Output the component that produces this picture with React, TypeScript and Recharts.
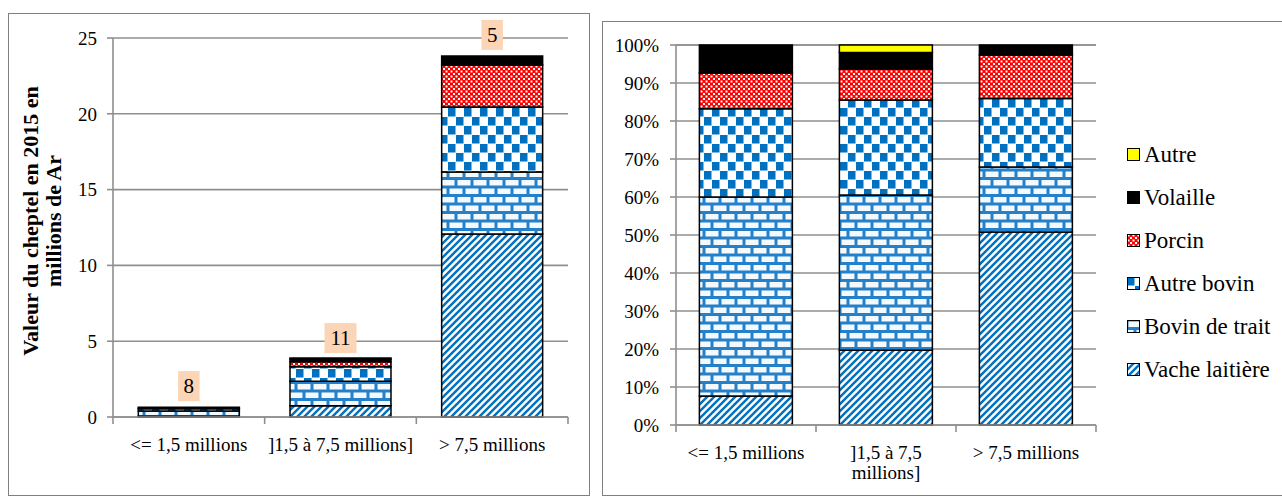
import React from 'react';
import { Bar, BarChart, CartesianGrid, LabelList, XAxis, YAxis } from 'recharts';

const categories = ['<= 1,5 millions', ']1,5 à 7,5 millions]', '> 7,5 millions'];
const farmCounts = [8, 11, 5];

// valeur du cheptel en 2015, millions d'Ar
const vacheLaitiere = [0.05, 0.75, 12.07];
const bovinTrait = [0.34, 1.6, 4.09];
const autreBovin = [0.15, 0.97, 4.29];
const porcin = [0.06, 0.32, 2.77];
const volaille = [0.05, 0.18, 0.6];
const autre = [0, 0.08, 0];

// parts en %
const pctVache = [7.6, 19.7, 50.8];
const pctTrait = [52.4, 40.8, 17.1];
const pctAutreBovin = [23.2, 25.0, 18.0];
const pctPorcin = [9.4, 8.2, 11.5];
const pctVolaille = [7.4, 4.3, 2.6];
const pctAutre = [0, 2.0, 0];

const valueTicks = [0, 5, 10, 15, 20, 25];
const pctTicks = [0, 10, 20, 30, 40, 50, 60, 70, 80, 90, 100];

const series = [
  { key: 'vache', name: 'Vache laitière', fill: 'url(#pat-vache)' },
  { key: 'trait', name: 'Bovin de trait', fill: 'url(#pat-trait)' },
  { key: 'autreBovin', name: 'Autre bovin', fill: 'url(#pat-autrebovin)' },
  { key: 'porcin', name: 'Porcin', fill: 'url(#pat-porcin)' },
  { key: 'volaille', name: 'Volaille', fill: '#000000' },
  { key: 'autre', name: 'Autre', fill: '#FFFF00' },
];

const valueData = categories.map((cat, i) => ({
  cat,
  n: farmCounts[i],
  vache: vacheLaitiere[i],
  trait: bovinTrait[i],
  autreBovin: autreBovin[i],
  porcin: porcin[i],
  volaille: volaille[i],
  autre: autre[i],
}));

const pctData = categories.map((cat, i) => ({
  cat,
  vache: pctVache[i],
  trait: pctTrait[i],
  autreBovin: pctAutreBovin[i],
  porcin: pctPorcin[i],
  volaille: pctVolaille[i],
  autre: pctAutre[i],
}));

const FONT = '"Liberation Serif", "Times New Roman", serif';
const GRID = '#8f8f8f';
const BLUE = '#0070C0';

let measureCtx: CanvasRenderingContext2D | null = null;
function textWidth(s: string, size: number) {
  if (!measureCtx) measureCtx = document.createElement('canvas').getContext('2d');
  if (!measureCtx) return s.length * size * 0.45;
  measureCtx.font = `${size}px "Liberation Serif"`;
  return measureCtx.measureText(s).width;
}

function wrapWords(s: string, maxWidth: number, size: number) {
  const words = s.split(' ');
  const lines: string[] = [];
  let cur = '';
  for (const w of words) {
    const next = cur ? `${cur} ${w}` : w;
    if (cur && textWidth(next, size) > maxWidth) {
      lines.push(cur);
      cur = w;
    } else {
      cur = next;
    }
  }
  if (cur) lines.push(cur);
  return lines;
}

function Patterns() {
  return (
    <svg width={0} height={0} style={{ position: 'absolute' }}>
      <defs>
        <pattern id="pat-vache" patternUnits="userSpaceOnUse" width="7" height="7">
          <rect width="7" height="7" fill="#fff" />
          <path d="M-2,2 L2,-2 M0,7 L7,0 M5,9 L9,5" stroke={BLUE} strokeWidth="2.4" />
        </pattern>
        <pattern id="pat-trait" patternUnits="userSpaceOnUse" width="16" height="17">
          <rect width="16" height="17" fill="#2480c8" />
          <rect x="1.5" y="1.5" width="13" height="5.5" fill="#f4f9fd" />
          <rect x="-6.5" y="10" width="13" height="5.5" fill="#f4f9fd" />
          <rect x="9.5" y="10" width="13" height="5.5" fill="#f4f9fd" />
        </pattern>
        <pattern id="pat-autrebovin" patternUnits="userSpaceOnUse" width="16" height="18">
          <rect width="16" height="18" fill="#fff" />
          <rect x="0" y="0" width="7.5" height="8.5" fill={BLUE} />
          <rect x="8" y="9" width="7.5" height="8.5" fill={BLUE} />
        </pattern>
        <pattern id="pat-porcin" patternUnits="userSpaceOnUse" width="5" height="5">
          <rect width="5" height="5" fill="#ff0000" />
          <rect x="0.5" y="0.5" width="2" height="2" fill="#fff" />
          <rect x="3" y="3" width="2" height="2" fill="#fff" />
        </pattern>
      </defs>
    </svg>
  );
}

function makeCatTick(wrapWidth: number) {
  return (props: any) => {
    const { x, y, payload, index } = props;
    const bw = props.width ? props.width / categories.length : 150;
    const lines = wrapWords(String(payload.value), wrapWidth, 19);
    return (
      <g>
        <line x1={x - bw / 2} x2={x - bw / 2} y1={y} y2={y + 7} stroke={GRID} strokeWidth={1.6} />
        {index === categories.length - 1 && (
          <line x1={x + bw / 2} x2={x + bw / 2} y1={y} y2={y + 7} stroke={GRID} strokeWidth={1.6} />
        )}
        <text x={x} y={y + 34} textAnchor="middle" fontSize={19} fontFamily={FONT} fill="#000">
          {lines.map((l, i) => (
            <tspan key={i} x={x} dy={i === 0 ? 0 : 20}>
              {l}
            </tspan>
          ))}
        </text>
      </g>
    );
  };
}

function renderCount(props: any) {
  const x = Number(props.x);
  const y = Number(props.y);
  const width = Number(props.width);
  const label = String(props.value);
  const w = label.length * 10.5 + 11;
  const top = y - 36;
  const cx = x + width / 2;
  return (
    <g>
      <rect x={cx - w / 2} y={top} width={w} height={30} fill="#FBD5B5" />
      <text x={cx} y={top + 22} textAnchor="middle" fontSize={21} fontFamily={FONT} fill="#000">
        {label}
      </text>
    </g>
  );
}

function renderValueTitle() {
  return (
    <g fontFamily={FONT} fontWeight="bold" fontSize={22} fill="#000">
      <text transform="translate(38,221) rotate(-90)" textAnchor="middle">
        Valeur du cheptel en 2015 en
      </text>
      <text transform="translate(61,221) rotate(-90)" textAnchor="middle">
        millions de Ar
      </text>
    </g>
  );
}

const tickStyle = { fill: '#000', fontSize: 19, fontFamily: FONT };

export default function App() {
  return (
    <div
      style={{
        position: 'absolute',
        left: 0,
        top: 0,
        width: 1282,
        height: 496,
        overflow: 'hidden',
        background: '#fff',
      }}
    >
      <Patterns />
      <div
        style={{
          position: 'absolute',
          left: 8,
          top: 13,
          width: 580,
          height: 481,
          border: '1px solid #808080',
        }}
      />
      <div
        style={{
          position: 'absolute',
          left: 602,
          top: 21,
          width: 700,
          height: 473,
          border: '1px solid #808080',
        }}
      />

      <div style={{ position: 'absolute', left: 0, top: 0 }}>
        <BarChart
          width={600}
          height={496}
          data={valueData}
          margin={{ top: 38, right: 32, bottom: 0, left: 0 }}
          barCategoryGap="16.7%"
        >
          <CartesianGrid vertical={false} stroke={GRID} strokeWidth={1.6} />
          <XAxis
            dataKey="cat"
            height={79}
            interval={0}
            axisLine={{ stroke: GRID, strokeWidth: 1.6 }}
            tickLine={false}
            tickSize={0}
            tickMargin={0}
            tick={makeCatTick(220)}
          />
          <YAxis
            width={113}
            domain={[0, 25]}
            ticks={valueTicks}
            interval={0}
            axisLine={{ stroke: GRID, strokeWidth: 1.6 }}
            tickLine={{ stroke: GRID, strokeWidth: 1.6 }}
            tickSize={6}
            tickMargin={10}
            tick={tickStyle}
            label={{ content: renderValueTitle }}
          />
          {series.map((s) => (
            <Bar
              key={s.key}
              dataKey={s.key}
              name={s.name}
              stackId="v"
              fill={s.fill}
              stroke="#000"
              strokeWidth={1.5}
              isAnimationActive={false}
            >
              {s.key === 'volaille' && <LabelList dataKey="n" content={renderCount} />}
            </Bar>
          ))}
        </BarChart>
      </div>

      <div style={{ position: 'absolute', left: 600, top: 0 }}>
        <BarChart
          width={682}
          height={496}
          data={pctData}
          margin={{ top: 45, right: 186, bottom: 0, left: 0 }}
          barCategoryGap="16.7%"
        >
          <CartesianGrid vertical={false} stroke={GRID} strokeWidth={1.6} />
          <XAxis
            dataKey="cat"
            height={71}
            interval={0}
            axisLine={{ stroke: GRID, strokeWidth: 1.6 }}
            tickLine={false}
            tickSize={0}
            tickMargin={0}
            tick={makeCatTick(128)}
          />
          <YAxis
            width={76}
            domain={[0, 100]}
            ticks={pctTicks}
            interval={0}
            tickFormatter={(v: number) => `${v}%`}
            axisLine={{ stroke: GRID, strokeWidth: 1.6 }}
            tickLine={{ stroke: GRID, strokeWidth: 1.6 }}
            tickSize={6}
            tickMargin={11}
            tick={tickStyle}
          />
          {series.map((s) => (
            <Bar
              key={s.key}
              dataKey={s.key}
              name={s.name}
              stackId="p"
              fill={s.fill}
              stroke="#000"
              strokeWidth={1.5}
              isAnimationActive={false}
            />
          ))}
        </BarChart>
      </div>

      <div style={{ position: 'absolute', left: 1127, top: 133, fontFamily: FONT, fontSize: 23 }}>
        {[...series].reverse().map((s) => (
          <div key={s.key} style={{ height: 43, display: 'flex', alignItems: 'center' }}>
            <svg width={13} height={13} style={{ marginRight: 4 }}>
              <rect x={0.5} y={0.5} width={12} height={12} fill={s.fill} stroke="#000" strokeWidth={1} />
            </svg>
            <span>{s.name}</span>
          </div>
        ))}
      </div>
    </div>
  );
}
